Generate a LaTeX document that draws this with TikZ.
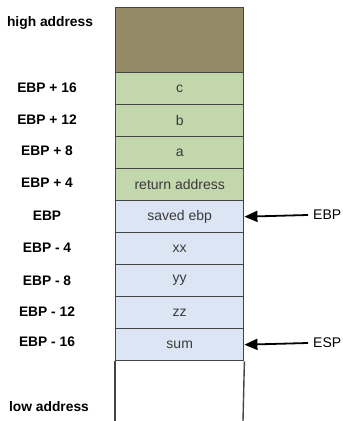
\documentclass[tikz,border=0pt]{standalone}
\usepackage{fontspec}
\setmainfont{Liberation Sans}
\usetikzlibrary{arrows.meta}
\definecolor{frameline}{HTML}{454545}
\definecolor{highfill}{HTML}{958A66}
\definecolor{argfill}{HTML}{C2D7AC}
\definecolor{localfill}{HTML}{DBE5F4}
\definecolor{celltext}{HTML}{3A3A3A}
\tikzset{
  x=1pt, y=-1pt,
  cell/.style={draw=frameline, line width=1.4pt, minimum width=128pt, minimum height=32pt,
    inner sep=0pt, anchor=north west, text=celltext, font=\fontsize{14}{16}\selectfont},
  offset/.style={font=\fontsize{13.8}{16}\selectfont\bfseries, inner sep=0pt},
  reglabel/.style={font=\fontsize{14}{16}\selectfont, inner sep=0pt, anchor=west},
  ptr/.style={line width=1.8pt, draw=black, -{Triangle[length=13pt,width=11pt]}},
}
\begin{document}
\begin{tikzpicture}
\useasboundingbox (0,0) rectangle (343,421);
% stack cells, top to bottom
\node[cell, fill=highfill, minimum height=65pt] (top) at (115,7) {};
\node[cell, fill=argfill] (c)    at (115,72)  {c};
\node[cell, fill=argfill] (b)    at (115,104) {b};
\node[cell, fill=argfill] (a)    at (115,136) {a};
\node[cell, fill=argfill] (ret)  at (115,168) {return address};
\node[cell, fill=localfill] (sebp) at (115,200) {saved ebp};
\node[cell, fill=localfill] (xx)   at (115,232) {xx};
\node[cell, fill=localfill] (yy)   at (115,264) {yy};
\node[cell, fill=localfill] (zz)   at (115,296) {zz};
\node[cell, fill=localfill] (sum)  at (115,328) {sum};
% open-ended free region below the stack top
\coordinate (freeL) at (115,421);
\coordinate (freeR) at (243,421);
\draw[draw=frameline, line width=1.4pt] (sum.south west) -- (freeL);
\draw[draw=frameline, line width=1.4pt] (sum.south east) -- (freeR);
% address labels
\node[offset] (hi)  at (50,23)  {high address};
\node[offset] (o16) at (47,88)  {EBP + 16};
\node[offset] (o12) at (47,120) {EBP + 12};
\node[offset] (o8)  at (47,151) {EBP + 8};
\node[offset] (o4)  at (47,183) {EBP + 4};
\node[offset] (o0)  at (47,216) {EBP};
\node[offset] (m4)  at (47,248) {EBP - 4};
\node[offset] (m8)  at (47,281) {EBP - 8};
\node[offset] (m12) at (47,312) {EBP - 12};
\node[offset] (m16) at (47,342) {EBP - 16};
\node[offset] (lo)  at (49,407) {low address};
% register pointers
\node[reglabel] (ebpreg) at (313,215) {EBP};
\node[reglabel] (espreg) at (313,343) {ESP};
\draw[ptr] ([xshift=-5pt]ebpreg.west) -- (sebp.east);
\draw[ptr] ([xshift=-5pt]espreg.west) -- (sum.east);
\end{tikzpicture}
\end{document}
